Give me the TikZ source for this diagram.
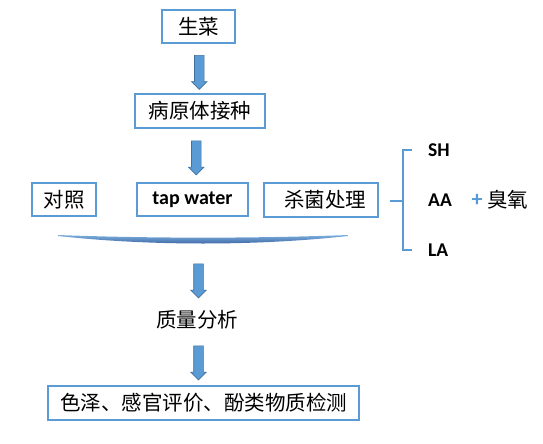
\documentclass[tikz,border=0pt]{standalone}
\usepackage{fontspec}
\setmainfont{Carlito}
\newfontfamily\cjk{Noto Sans CJK SC}
\usetikzlibrary{shapes.arrows,calc}
\definecolor{boxblue}{RGB}{91,155,213}
\definecolor{darkblue}{RGB}{65,113,156}
\definecolor{arcdark}{RGB}{47,85,151}
\tikzset{
  box/.style={draw=boxblue,line width=1.8pt,inner sep=0pt,font=\cjk\fontsize{20.5}{24}\selectfont},
  plain/.style={inner sep=0pt,font=\cjk\fontsize{20.5}{24}\selectfont},
  lat/.style={inner sep=0pt,font=\bfseries\fontsize{19.5}{22}\selectfont},
  blockarrow/.style={shape=single arrow,rotate=-90,fill=boxblue,draw=darkblue,line width=0.6pt,
    inner xsep=0pt,inner ysep=4.5pt,minimum height=34pt,single arrow head extend=3pt,
    single arrow head indent=0pt,single arrow tip angle=90},
  brace/.style={draw=boxblue,line width=1.8pt}
}
\begin{document}
\begin{tikzpicture}[x=1pt,y=-1pt]
\useasboundingbox (0,0) rectangle (543,444);
% boxes
\node[box,minimum width=73pt,minimum height=33pt] (sc) at (198.5,26.5) {生菜};
\node[box,minimum width=130pt,minimum height=34pt] (by) at (200,111) {病原体接种};
\node[box,minimum width=64pt,minimum height=33pt] (dz) at (64,199.5) {对照};
\node[box,minimum width=111pt,minimum height=33pt,font=\bfseries\fontsize{20}{24}\selectfont] (tw) at (192.5,199.5) {tap water};
\node[box,minimum width=114pt,minimum height=34pt] (sj) at (321,200) {\hspace*{8pt}杀菌处理};
\node[plain] (zl) at (197,320) {质量分析};
\node[box,minimum width=311pt,minimum height=34pt] (fin) at (203.5,403) {色泽、感官评价、酚类物质检测};
% arc
\coordinate (al) at (58,235);
\coordinate (ar) at (348,235);
\shade[top color=boxblue!80,bottom color=arcdark] (al) .. controls (150,238.5) and (256,238.5) .. (ar)
  -- (348,236) .. controls (256,246) and (150,246) .. (58,236) -- cycle;
% arrows
\node[blockarrow] (a1) at ($(sc.south)!0.5!(by.north)+(0,1.5)$) {};
\node[blockarrow] (a2) at ($(by.south)!0.5!(tw.north)$) {};
\node[blockarrow] (a3) at (198.5,278.5) {};
\node[blockarrow] (a4) at (198.5,360.5) {};
% bracket
\draw[brace] (412,150) -- (403,150) -- (403,250) -- (412,250);
\draw[brace] (403,201) -- (390,201);
\node[lat,anchor=west] (sh) at (428,150) {SH};
\node[lat,anchor=west] (aa) at (428,200) {AA};
\node[lat,anchor=west] (la) at (428,250) {LA};
\node[lat,text=boxblue,font=\bfseries\fontsize{22}{24}\selectfont] (plus) at (477,200) {+};
\node[plain,anchor=west] (cy) at (487,200) {臭氧};
\end{tikzpicture}
\end{document}
